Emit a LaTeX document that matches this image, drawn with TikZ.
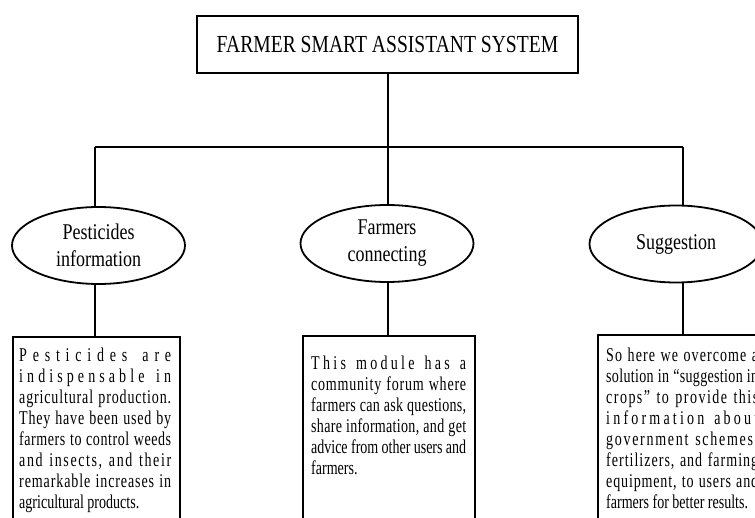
\documentclass[tikz,border=0pt]{standalone}
\usepackage{fontspec}
\setmainfont{Liberation Serif}[FakeStretch=0.8]
\newfontfamily\modfont{Liberation Serif}[FakeStretch=0.72]
\usetikzlibrary{shapes.geometric,calc}

% A justified line whose extra room is shared out between all its letters
\ExplSyntaxOn
\bool_new:N \l__fsa_first_bool
\cs_new_protected:Npn \__fsa_gap:
  { \skip_horizontal:n { 0pt plus 1fil minus 0.6pt } }
\cs_new_protected:Npn \spreadline #1
  {
    \hbox_to_wd:nn { \linewidth }
      {
        \bool_set_true:N \l__fsa_first_bool
        \seq_set_split:Nnn \l_tmpa_seq { ~ } { #1 }
        \seq_map_indexed_inline:Nn \l_tmpa_seq
          {
            \int_compare:nNnF { ##1 } = { 1 } { \__fsa_gap: \c_space_tl }
            \tl_map_inline:nn { ##2 }
              {
                \bool_if:NTF \l__fsa_first_bool
                  { \bool_set_false:N \l__fsa_first_bool }
                  { \__fsa_gap: }
                ####1
              }
          }
      }
  }
\ExplSyntaxOff

\newcommand{\lastline}[1]{\hbox{#1}}
\newcommand{\bodytext}[2]{\parbox[t]{#1}{\modfont\fontsize{19.5}{21}\selectfont
  \setlength{\baselineskip}{21pt}\setlength{\lineskiplimit}{-20pt}#2}}

\begin{document}
\begin{tikzpicture}[x=1pt,y=-1pt,
  link/.style={line width=2pt},
  titlebox/.style={draw,line width=2pt,minimum width=381pt,minimum height=57pt,
    inner sep=0pt,font=\fontsize{24.5}{26}\selectfont},
  topic/.style={draw,ellipse,line width=1.8pt,minimum width=173pt,minimum height=77pt,
    inner sep=0pt,align=center,font=\fontsize{22.5}{27}\selectfont},
  modbox/.style={draw,line width=2pt,anchor=north west,minimum height=260pt,inner sep=0pt},
  modtext/.style={anchor=base west,inner sep=0pt}]
\useasboundingbox (0,0) rectangle (755,518);
\clip (0,0) rectangle (755,518);

% root of the tree
\node[titlebox] (title) at (387.5,44.5) {FARMER SMART ASSISTANT SYSTEM};

% branching bar
\coordinate (jl) at (95,147);
\coordinate (jm) at (388,147);
\coordinate (jr) at (683,147);

% the three modules
\node[topic] (e1) at (98.5,245.5) {Pesticides\\information};
\node[topic] (e2) at (387,243.5) {Farmers\\connecting};
\node[topic] (e3) at (676,244) {Suggestion};

% their descriptions
\node[modbox,minimum width=167pt] (b1) at (12,336) {};
\node[modbox,minimum width=172pt] (b2) at (302,335) {};
\node[modbox,minimum width=167pt] (b3) at (597,334) {};

\node[modtext] (t1) at ($(b1.north west)+(7,26)$) {\bodytext{152pt}{%
  \spreadline{Pesticides are}
  \spreadline{indispensable in}
  \spreadline{agricultural production.}
  \spreadline{They have been used by}
  \spreadline{farmers to control weeds}
  \spreadline{and insects, and their}
  \spreadline{remarkable increases in}
  \lastline{agricultural products.}}};

\node[modtext] (t2) at ($(b2.north west)+(9,35)$) {\bodytext{155pt}{%
  \spreadline{This module has a}
  \spreadline{community forum where}
  \spreadline{farmers can ask questions,}
  \spreadline{share information, and get}
  \spreadline{advice from other users and}
  \lastline{farmers.}}};

\node[modtext] (t3) at ($(b3.north west)+(9,27.5)$) {\bodytext{152pt}{%
  \spreadline{So here we overcome a}
  \spreadline{solution in “suggestion in}
  \spreadline{crops” to provide this}
  \spreadline{information about}
  \spreadline{government schemes,}
  \spreadline{fertilizers, and farming}
  \spreadline{equipment, to users and}
  \lastline{farmers for better results.}}};

% connectors
\draw[link] (jm |- title.south) -- (jm);
\draw[link] (jl) -- (jr);
\draw[link] (jl) -- (jl |- e1.north);
\draw[link] (jm) -- (jm |- e2.north);
\draw[link] (jr) -- (jr |- e3.north);
\draw[link] (jl |- e1.south) -- (jl |- b1.north);
\draw[link] (jm |- e2.south) -- (jm |- b2.north);
\draw[link] (jr |- e3.south) -- (jr |- b3.north);
\end{tikzpicture}
\end{document}
